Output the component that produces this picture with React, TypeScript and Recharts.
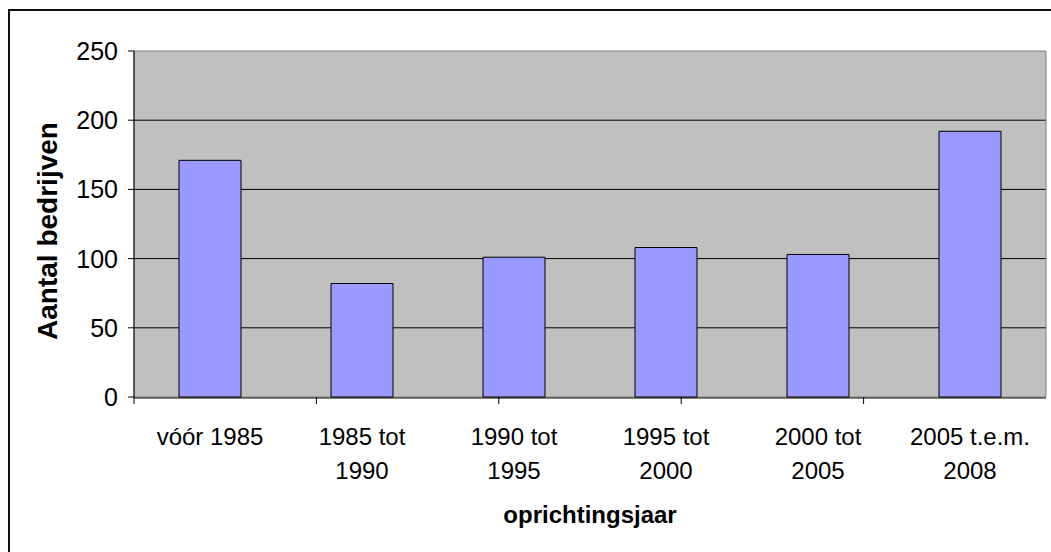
import React from 'react';
import { BarChart, Bar, XAxis, YAxis, CartesianGrid, ReferenceArea } from 'recharts';

const categories = [
  'vóór 1985',
  '1985 tot\n1990',
  '1990 tot\n1995',
  '1995 tot\n2000',
  '2000 tot\n2005',
  '2005 t.e.m.\n2008',
];
const companies = [171, 82, 101, 108, 103, 192];
const yTicks = [0, 50, 100, 150, 200, 250];
const gridValues = [50, 100, 150, 200];
const edgeTicks = [0, 1, 2, 3, 4, 5, 6];
const xTitle = 'oprichtingsjaar';
const yTitle = 'Aantal bedrijven';

const data = categories.map((c, i) => ({ category: c, value: companies[i] }));

const FONT = "'Liberation Sans', Arial, sans-serif";

const XTick = (props: any) => {
  const { x, y, payload } = props;
  const lines = String(payload.value).split('\n');
  return (
    <g>
      {lines.map((l: string, i: number) => (
        <text key={i} x={x} y={y + 38 + i * 34} textAnchor="middle" fontFamily={FONT} fontSize={24} fill="#000">
          {l}
        </text>
      ))}
    </g>
  );
};

const YTick = (props: any) => {
  const { x, y, payload } = props;
  return (
    <text x={x} y={y + 9} textAnchor="end" fontFamily={FONT} fontSize={25} fill="#000">
      {payload.value}
    </text>
  );
};

const NoTick = () => <g />;

const XTitle = (props: any) => {
  const vb = props.viewBox || { x: 0, y: 0, width: 0 };
  return (
    <text x={vb.x + vb.width / 2} y={523} textAnchor="middle" fontFamily={FONT} fontSize={24} fontWeight="bold" fill="#000">
      {xTitle}
    </text>
  );
};

const YTitle = (props: any) => {
  const vb = props.viewBox || { x: 0, y: 0, height: 0 };
  const cx = vb.x + 57;
  const cy = vb.y + vb.height / 2 + 7;
  return (
    <text
      x={cx}
      y={cy}
      transform={`rotate(-90, ${cx}, ${cy})`}
      textAnchor="middle"
      fontFamily={FONT}
      fontSize={28}
      fontWeight="bold"
      fill="#000"
    >
      {yTitle}
    </text>
  );
};

export default function App() {
  return (
    <div style={{ position: 'absolute', left: 0, top: 0, width: 1051, height: 552, background: '#fff', overflow: 'hidden' }}>
      <div
        style={{
          position: 'absolute',
          left: 8,
          top: 9,
          width: 1200,
          height: 700,
          borderLeft: '2px solid #111',
          borderTop: '2px solid #111',
        }}
      />
      <div style={{ position: 'absolute', left: 0, top: 0 }}>
        <BarChart
          width={1051}
          height={552}
          data={data}
          margin={{ top: 51, right: 5, bottom: 94, left: 0 }}
        >
          <CartesianGrid
            vertical={false}
            horizontal={true}
            horizontalValues={gridValues}
            stroke="#000"
            strokeWidth={1}
            fill="#C0C0C0"
            fillOpacity={1}
          />
          <ReferenceArea xAxisId="labels" y1={0} y2={250} fill="none" fillOpacity={0} stroke="#808080" strokeWidth={1} />
          <XAxis
            xAxisId={0}
            type="number"
            domain={[0, 6]}
            ticks={edgeTicks}
            allowDataOverflow
            tick={<NoTick />}
            axisLine={false}
            tickLine={{ stroke: '#000' }}
            tickSize={7}
            height={1}
          />
          <XAxis
            xAxisId="labels"
            dataKey="category"
            interval={0}
            tick={<XTick />}
            tickLine={false}
            axisLine={{ stroke: '#000' }}
            tickSize={7}
            height={60}
            label={<XTitle />}
          />
          <YAxis
            domain={[0, 250]}
            ticks={yTicks}
            interval={0}
            width={134}
            tickSize={6}
            tickMargin={10}
            tick={<YTick />}
            axisLine={{ stroke: '#000' }}
            tickLine={{ stroke: '#000' }}
            label={<YTitle />}
          />
          <Bar
            xAxisId="labels"
            dataKey="value"
            fill="#9999FF"
            stroke="#000"
            strokeWidth={1}
            barSize={62}
            isAnimationActive={false}
          />
        </BarChart>
      </div>
    </div>
  );
}
